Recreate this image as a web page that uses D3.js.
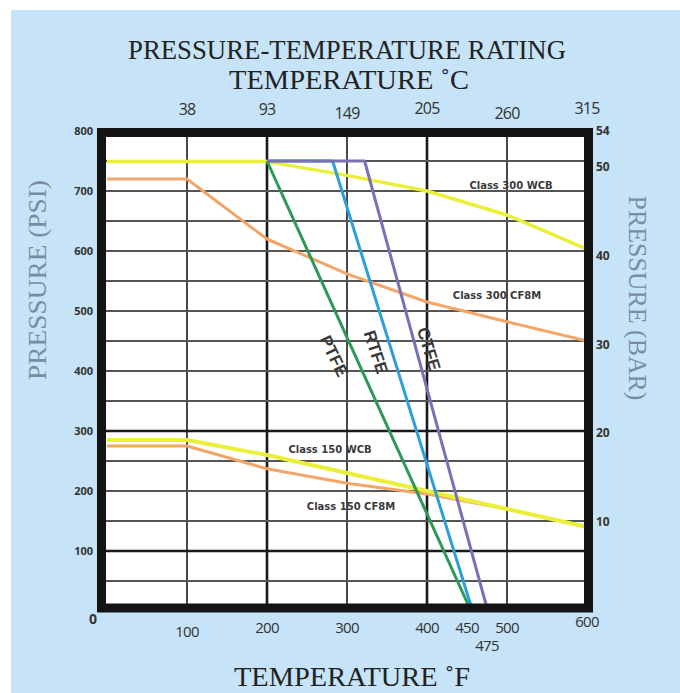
<!DOCTYPE html>
<html>
<head>
<meta charset="utf-8">
<script src="https://cdn.jsdelivr.net/npm/d3@7"></script>
<style>
  html, body { margin: 0; padding: 0; background: #ffffff; }
  svg { display: block; }
</style>
</head>
<body>
<div id="chart"></div>
<script>
// ---------- data ----------
const tempFTicks = [100, 200, 300, 400, 450, 500, 600];
const tempFExtraTick = [475];
const tempCTickPos = [100, 200, 300, 400, 500, 600];
const tempCLabels = ["38", "93", "149", "205", "260", "315"];
const psiTicks = [100, 200, 300, 400, 500, 600, 700, 800];
const barTicks = [10, 20, 30, 40, 50, 54];
const gridF = [100, 200, 300, 400, 500];
const gridPsi = [50, 100, 150, 200, 250, 300, 350, 400, 450, 500, 550, 600, 650, 700, 750];
const boldGridF = [200, 400];
const boldGridPsi = [100, 300];

const class300WCB  = [[0, 749], [200, 749], [300, 726], [400, 700], [500, 660], [600, 603]];
const class300CF8M = [[0, 720], [100, 720], [200, 620], [300, 562], [400, 515], [500, 482], [600, 450]];
const class150WCB  = [[0, 285], [100, 285], [200, 260], [300, 230], [400, 200], [500, 170], [600, 140]];
const class150CF8M = [[0, 275], [100, 275], [200, 237], [300, 213], [400, 195], [500, 170], [600, 140]];
const ptfe = [[200, 750], [455, 0]];
const rtfe = [[200, 750], [282, 750], [457, 0]];
const ctfe = [[200, 750], [322, 750], [476, 0]];

// ---------- setup ----------
const W = 680, H = 693;
const svg = d3.select("#chart").append("svg").attr("width", W).attr("height", H);

svg.append("rect").attr("x", 11).attr("y", 10).attr("width", W - 11).attr("height", H - 10)
  .attr("fill", "#c6e3f7");

const x = d3.scaleLinear().domain([0, 600]).range([107, 587]);
const y = d3.scaleLinear().domain([0, 800]).range([611, 131]);
const yBar = d3.scaleLinear().domain([0, 54]).range([611, 131]);

// plot background
svg.append("rect").attr("x", 101.5).attr("y", 132.5).attr("width", 487).attr("height", 475.5)
  .attr("fill", "#ffffff");

// grid
const g = svg.append("g");
g.selectAll("line.v").data(gridF).join("line")
  .attr("x1", d => x(d)).attr("x2", d => x(d)).attr("y1", 133).attr("y2", 608)
  .attr("stroke", d => boldGridF.includes(d) ? "#1a1a1a" : "#4a4a4a")
  .attr("stroke-width", d => boldGridF.includes(d) ? 2.6 : 2);
g.selectAll("line.h").data(gridPsi).join("line")
  .attr("x1", 102).attr("x2", 588).attr("y1", d => y(d)).attr("y2", d => y(d))
  .attr("stroke", d => boldGridPsi.includes(d) ? "#1a1a1a" : "#555555")
  .attr("stroke-width", d => boldGridPsi.includes(d) ? 2.6 : 2);

// lines
const straight = d3.line().x(d => x(d[0])).y(d => y(d[1]));

const series = [
  {data: class300CF8M, color: "#f2a66a", w: 3},
  {data: class150CF8M, color: "#f2a66a", w: 3},
  {data: class300WCB,  color: "#eaf03a", w: 3.5},
  {data: class150WCB,  color: "#eaf03a", w: 4},
  {data: ptfe, color: "#2c9a55", w: 3},
  {data: rtfe, color: "#2f9fdc", w: 3},
  {data: ctfe, color: "#7a70b4", w: 3}
];
svg.append("g").selectAll("path").data(series).join("path")
  .attr("d", d => straight(d.data))
  .attr("fill", "none")
  .attr("stroke", d => d.color)
  .attr("stroke-width", d => d.w)
  .attr("stroke-linejoin", "round");

// frame
svg.append("rect").attr("x", 101.5).attr("y", 132.5).attr("width", 487).attr("height", 475.5)
  .attr("fill", "none").attr("stroke", "#141414").attr("stroke-width", 9);

// class labels
const lab = svg.append("g").attr("font-family", "'DejaVu Sans', sans-serif")
  .attr("font-weight", "bold").attr("font-size", 10).attr("fill", "#3a3a3a");
lab.append("text").attr("x", 511).attr("y", 189).attr("text-anchor", "middle").text("Class 300 WCB");
lab.append("text").attr("x", 497).attr("y", 299).attr("text-anchor", "middle").text("Class 300 CF8M");
lab.append("text").attr("x", 330).attr("y", 453).attr("text-anchor", "middle").text("Class 150 WCB");
lab.append("text").attr("x", 351).attr("y", 510).attr("text-anchor", "middle").text("Class 150 CF8M");

// seat labels (rotated)
const seat = svg.append("g").attr("font-family", "'Liberation Sans', Arial, sans-serif")
  .attr("font-weight", "bold").attr("font-size", 17).attr("fill", "#3a3a3a");
[["PTFE", 334, 356, 64], ["RTFE", 376, 352, 72], ["CTFE", 429, 349, 73]].forEach(([t, cx, cy, a]) => {
  seat.append("text").attr("transform", `translate(${cx},${cy}) rotate(${a})`)
    .attr("text-anchor", "middle").attr("dy", "0.35em").text(t);
});

// left ticks (PSI)
const tickFont = "'Open Sans', 'DejaVu Sans', sans-serif";
svg.append("g").selectAll("text").data(psiTicks).join("text")
  .attr("x", 93).attr("y", d => y(d)).attr("dy", "0.35em").attr("text-anchor", "end")
  .attr("font-family", tickFont).attr("font-weight", "bold").attr("font-size", 11)
  .attr("fill", "#333").text(d => d);
// right ticks (BAR)
svg.append("g").selectAll("text").data(barTicks).join("text")
  .attr("x", 596).attr("y", d => yBar(d)).attr("dy", "0.35em").attr("text-anchor", "start")
  .attr("font-family", tickFont).attr("font-weight", "bold").attr("font-size", 12)
  .attr("fill", "#333").text(d => d);
// origin label
svg.append("text").attr("x", 93).attr("y", 619).attr("dy", "0.35em").attr("text-anchor", "middle")
  .attr("font-family", tickFont).attr("font-weight", "bold").attr("font-size", 14)
  .attr("fill", "#333").text("0");
// bottom ticks (F)
svg.append("g").selectAll("text").data(tempFTicks).join("text")
  .attr("x", d => x(d)).attr("y", d => d === 600 ? 622 : (d === 100 ? 632 : 628)).attr("dy", "0.35em")
  .attr("text-anchor", "middle")
  .attr("font-family", tickFont).attr("font-size", 15).attr("letter-spacing", -0.8)
  .attr("fill", "#333").text(d => d);
svg.append("g").selectAll("text").data(tempFExtraTick).join("text")
  .attr("x", d => x(d)).attr("y", 646).attr("dy", "0.35em").attr("text-anchor", "middle")
  .attr("font-family", tickFont).attr("font-size", 15).attr("letter-spacing", -0.8)
  .attr("fill", "#333").text(d => d);
// top ticks (C)
svg.append("g").selectAll("text").data(tempCTickPos).join("text")
  .attr("x", d => x(d)).attr("y", (d, i) => [109, 109, 113, 108, 113, 108][i]).attr("dy", "0.35em")
  .attr("text-anchor", "middle")
  .attr("font-family", tickFont).attr("font-size", 16).attr("letter-spacing", -0.8)
  .attr("fill", "#333").text((d, i) => tempCLabels[i]);

// titles
const serif = "'Liberation Serif', 'DejaVu Serif', serif";
svg.append("text").attr("x", 347).attr("y", 59).attr("text-anchor", "middle")
  .attr("font-family", serif).attr("font-size", 27).attr("fill", "#222")
  .attr("textLength", 438).attr("lengthAdjust", "spacingAndGlyphs")
  .text("PRESSURE-TEMPERATURE RATING");
svg.append("text").attr("x", 349).attr("y", 89).attr("text-anchor", "middle")
  .attr("font-family", serif).attr("font-size", 27).attr("fill", "#222")
  .attr("textLength", 240).attr("lengthAdjust", "spacingAndGlyphs")
  .text("TEMPERATURE \u02DAC");
svg.append("text").attr("x", 352).attr("y", 686).attr("text-anchor", "middle")
  .attr("font-family", serif).attr("font-size", 27).attr("fill", "#222")
  .attr("textLength", 236).attr("lengthAdjust", "spacingAndGlyphs")
  .text("TEMPERATURE \u02DAF");
svg.append("text").attr("transform", "translate(46,280) rotate(-90)").attr("text-anchor", "middle")
  .attr("font-family", serif).attr("font-size", 25).attr("fill", "#7a8ca0")
  .attr("textLength", 200).attr("lengthAdjust", "spacingAndGlyphs")
  .text("PRESSURE (PSI)");
svg.append("text").attr("transform", "translate(629,298) rotate(90)").attr("text-anchor", "middle")
  .attr("font-family", serif).attr("font-size", 25).attr("fill", "#7a8ca0")
  .attr("textLength", 205).attr("lengthAdjust", "spacingAndGlyphs")
  .text("PRESSURE (BAR)");
</script>
</body>
</html>
